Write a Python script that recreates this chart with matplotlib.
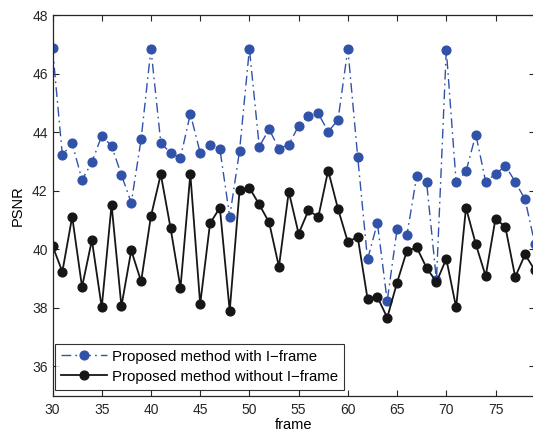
import matplotlib
matplotlib.use("Agg")
import matplotlib.pyplot as plt

frames = list(range(30, 80))
with_iframe = [46.88, 43.22, 43.62, 42.37, 42.97, 43.88, 43.53, 42.54, 41.59, 43.76,
               46.85, 43.64, 43.28, 43.13, 44.63, 43.30, 43.58, 43.43, 41.11, 43.37,
               46.85, 43.51, 44.10, 43.44, 43.57, 44.22, 44.56, 44.64, 44.02, 44.42,
               46.85, 43.16, 39.65, 40.90, 38.23, 40.69, 40.48, 42.51, 42.29, 38.94,
               46.82, 42.29, 42.66, 43.92, 42.31, 42.57, 42.85, 42.31, 41.70, 40.17]
without_iframe = [40.12, 39.23, 41.11, 38.71, 40.31, 38.01, 41.52, 38.05, 39.96, 38.90,
                  41.13, 42.56, 40.71, 38.68, 42.57, 38.12, 40.88, 41.42, 37.89, 42.01,
                  42.10, 41.53, 40.92, 39.40, 41.97, 40.53, 41.33, 41.10, 42.69, 41.38,
                  40.25, 40.42, 38.31, 38.37, 37.66, 38.86, 39.95, 40.06, 39.36, 38.88,
                  39.67, 38.01, 41.42, 40.17, 39.08, 41.05, 40.76, 39.05, 39.82, 39.28]
xticks = [30, 35, 40, 45, 50, 55, 60, 65, 70, 75]
yticks = [36, 38, 40, 42, 44, 46, 48]

plt.rcParams['font.family'] = ['Liberation Sans', 'DejaVu Sans']
fig = plt.figure(figsize=(5.33, 4.32), dpi=100)
ax = fig.add_axes([52.5 / 533, 1 - 395.5 / 432, (534.9 - 52.5) / 533, (395.5 - 15.2) / 432])

blue = '#3052a8'
black = '#161616'
ax.plot(frames, with_iframe, linestyle=(0, (7, 3, 1.2, 3)), color=blue, marker='o',
        markersize=6.3, linewidth=1.0, markerfacecolor=blue, markeredgecolor=blue,
        label='Proposed method with I\u2212frame')
ax.plot(frames, without_iframe, linestyle='-', color=black, marker='o', markersize=6.3,
        linewidth=1.3, markerfacecolor=black, markeredgecolor=black,
        label='Proposed method without I\u2212frame')

ax.set_xlim(30, 79)
ax.set_ylim(35, 48)
ax.set_xticks(xticks)
ax.set_yticks(yticks)
ax.tick_params(direction='in', top=True, right=True, length=4, width=0.8,
               labelsize=10, colors='#262626')
ax.tick_params(axis='x', pad=5.5)
for s in ax.spines.values():
    s.set_linewidth(0.9)
    s.set_color('#262626')
ax.set_xlabel('frame', fontsize=10.5, labelpad=0.5)
ax.set_ylabel('PSNR', fontsize=10.5, labelpad=5)

leg = ax.legend(loc='lower left', fontsize=10.8, frameon=True, fancybox=False,
                bbox_to_anchor=(2.2 / 482.4, 6 / 380.3), borderaxespad=0,
                handlelength=3.1, borderpad=0.4,
                labelspacing=0.4, handletextpad=0.3)
leg.get_frame().set_edgecolor('black')
leg.get_frame().set_linewidth(0.8)

fig.savefig('out.png', dpi=100)
